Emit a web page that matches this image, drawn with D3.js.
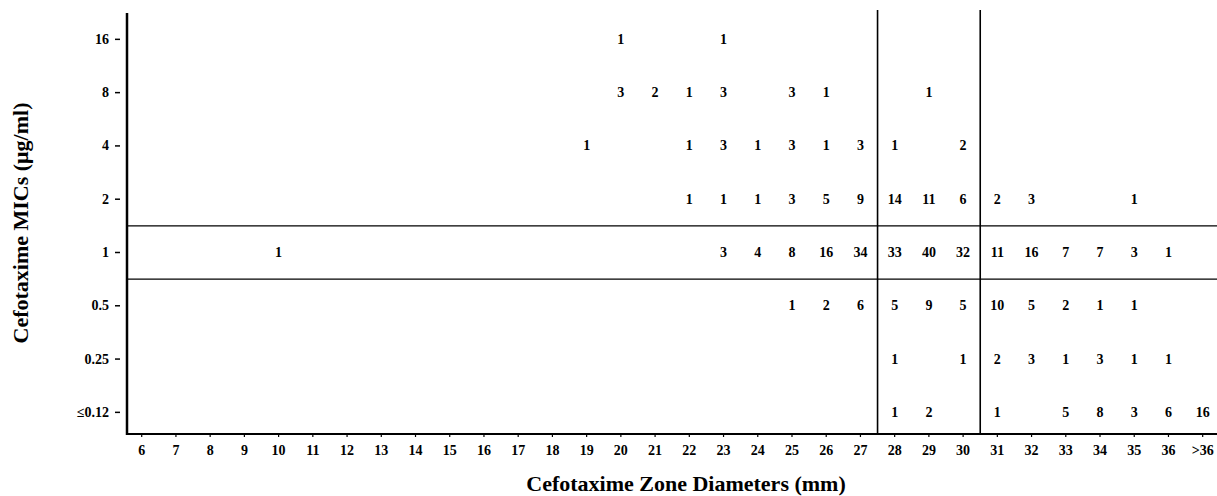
<!DOCTYPE html>
<html>
<head>
<meta charset="utf-8">
<script src="https://cdn.jsdelivr.net/npm/d3@7"></script>
<style>
    body { margin: 0; background: #fff; }
    text { font-family: 'Liberation Serif', 'Times New Roman', serif; font-weight: bold; fill: #000; }
</style>
</head>
<body>
<svg id="mic-zone" width="1217" height="496"></svg>
<script>
// zone diameter columns (mm) and MIC rows (ug/ml)
const zoneLabels = ['6', '7', '8', '9', '10', '11', '12', '13', '14', '15', '16', '17', '18', '19', '20',
    '21', '22', '23', '24', '25', '26', '27', '28', '29', '30', '31', '32', '33', '34', '35', '36', '>36']
const micLabels = ['16', '8', '4', '2', '1', '0.5', '0.25', '≤0.12']

// isolate counts per MIC row, as [zone, count]
const row16 = [['20', 1], ['23', 1]]
const row8 = [['20', 3], ['21', 2], ['22', 1], ['23', 3], ['25', 3], ['26', 1], ['29', 1]]
const row4 = [['19', 1], ['22', 1], ['23', 3], ['24', 1], ['25', 3], ['26', 1], ['27', 3], ['28', 1], ['30', 2]]
const row2 = [['22', 1], ['23', 1], ['24', 1], ['25', 3], ['26', 5], ['27', 9], ['28', 14], ['29', 11], ['30', 6],
    ['31', 2], ['32', 3], ['35', 1]]
const row1 = [['10', 1], ['23', 3], ['24', 4], ['25', 8], ['26', 16], ['27', 34], ['28', 33], ['29', 40], ['30', 32],
    ['31', 11], ['32', 16], ['33', 7], ['34', 7], ['35', 3], ['36', 1]]
const row05 = [['25', 1], ['26', 2], ['27', 6], ['28', 5], ['29', 9], ['30', 5], ['31', 10], ['32', 5], ['33', 2],
    ['34', 1], ['35', 1]]
const row025 = [['28', 1], ['30', 1], ['31', 2], ['32', 3], ['33', 1], ['34', 3], ['35', 1], ['36', 1]]
const row012 = [['28', 1], ['29', 2], ['31', 1], ['33', 5], ['34', 8], ['35', 3], ['36', 6], ['>36', 16]]

// breakpoints: MIC rows bounding the intermediate band, zone columns starting each category
const micBreaks = ['1', '0.5']
const zoneBreaks = ['28', '31']

function main() {
    let svg = d3.select('#mic-zone'),
        width = +svg.attr('width'),
        axisX = 127,
        axisY = 434,
        top = 10

    let rows = [row16, row8, row4, row2, row1, row05, row025, row012]
    let cells = []
    rows.forEach((r, i) => r.forEach(d => cells.push({mic: micLabels[i], zone: d[0], count: d[1]})))

    let xScale = d3.scaleBand().range([124.6, 1219.8]).domain(zoneLabels),
        yScale = d3.scaleBand().range([12.7, 439]).domain(micLabels)

    // breakpoint lines
    svg.selectAll('.hbreak')
        .data(micBreaks)
        .enter()
        .append('line')
        .attr('x1', axisX)
        .attr('x2', width)
        .attr('y1', d => yScale(d))
        .attr('y2', d => yScale(d))
        .attr('stroke', '#000')
        .attr('stroke-width', 1.2)

    svg.selectAll('.vbreak')
        .data(zoneBreaks)
        .enter()
        .append('line')
        .attr('x1', d => xScale(d))
        .attr('x2', d => xScale(d))
        .attr('y1', top)
        .attr('y2', axisY)
        .attr('stroke', '#000')
        .attr('stroke-width', 1.6)

    // counts
    svg.selectAll('.count')
        .data(cells)
        .enter()
        .append('text')
        .attr('text-anchor', 'middle')
        .attr('dominant-baseline', 'central')
        .attr('font-size', 14)
        .attr('x', d => xScale(d.zone) + xScale.bandwidth() / 2)
        .attr('y', d => yScale(d.mic) + yScale.bandwidth() / 2)
        .text(d => d.count)

    // x axis
    let xAxis = svg.append('g')
        .attr('transform', 'translate(0, ' + axisY + ')')
        .call(d3.axisBottom(xScale).tickSize(3).tickPadding(8))
    xAxis.select('.domain').remove()
    xAxis.selectAll('text').attr('font-size', 14)
    xAxis.selectAll('.tick line').attr('stroke-width', 1.2)
    xAxis.append('line')
        .attr('x1', axisX - 1)
        .attr('x2', width)
        .attr('stroke', '#000')
        .attr('stroke-width', 2)

    // y axis
    let yAxis = svg.append('g')
        .attr('transform', 'translate(' + axisX + ', 0)')
        .call(d3.axisLeft(yScale).tickSize(0).tickPadding(18))
    yAxis.select('.domain').remove()
    yAxis.selectAll('text').attr('font-size', 14)
    yAxis.selectAll('.tick line')
        .attr('x1', -12)
        .attr('x2', -7)
        .attr('stroke', '#000')
        .attr('stroke-width', 1.5)
    yAxis.append('line')
        .attr('y1', 13)
        .attr('y2', axisY + 1)
        .attr('stroke', '#000')
        .attr('stroke-width', 2.5)
    svg.selectAll('g').attr('font-family', null)

    // axis titles
    svg.append('text')
        .attr('text-anchor', 'middle')
        .attr('font-size', 22)
        .attr('x', 686)
        .attr('y', 491)
        .text('Cefotaxime Zone Diameters (mm)')

    svg.append('text')
        .attr('text-anchor', 'middle')
        .attr('font-size', 22)
        .attr('transform', 'translate(28, 223) rotate(-90)')
        .text('Cefotaxime MICs (μg/ml)')
}

main()
</script>
</body>
</html>
